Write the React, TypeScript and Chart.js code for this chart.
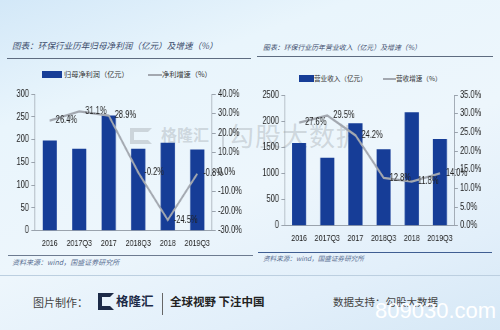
import React, { useEffect, useRef } from "react";
import { Chart, registerables } from "chart.js";
Chart.register(...registerables);

const categories = ["2016", "2017Q3", "2017", "2018Q3", "2018", "2019Q3"];
const profitValues = [198, 180, 253, 180, 193, 178];
const profitGrowth = [26.4, 31.1, 28.9, -0.2, -24.5, -0.8];
const revenueValues = [1580, 1300, 1960, 1460, 2170, 1660];
const revenueGrowth = [27.6, 29.5, 24.2, 12.8, 11.8, 14.0];

const BAR = "#163d97";
const LINE = "#a3a8b0";
const AXIS = "#9aa3ad";
const TICK_FONT = '"Liberation Sans", Arial, sans-serif';
// the reference picture is squeezed horizontally; the canvas is drawn wider and shown narrower
const SQUEEZE = 0.75;

const pctLabels = {
  id: "pctLabels",
  afterDatasetsDraw(chart: any, _args: any, opts: any) {
    const meta = chart.getDatasetMeta(0);
    const ds = chart.data.datasets[0].data as number[];
    const ctx = chart.ctx;
    ctx.save();
    ctx.font = `10px ${TICK_FONT}`;
    ctx.fillStyle = "#222";
    ctx.textBaseline = "middle";
    ctx.textAlign = "left";
    meta.data.forEach((pt: any, i: number) => {
      ctx.fillText(ds[i].toFixed(1) + "%", pt.x + (opts.offset ?? 8), pt.y);
    });
    ctx.restore();
  },
};

type Props = {
  left: number;
  top: number;
  cssWidth: number;
  height: number;
  bars: number[];
  growth: number[];
  yMax: number;
  yStep: number;
  y1Min: number;
  y1Max: number;
  y1Step: number;
  axisLeftPage: number; // page px from canvas left
  axisRightPage: number;
  padTop: number;
  xH: number;
  barPct: number;
  labelOffset: number;
};

function ComboChart(p: Props) {
  const ref = useRef<HTMLCanvasElement>(null);
  const iw = Math.round(p.cssWidth / SQUEEZE);
  useEffect(() => {
    if (!ref.current) return;
    const yFont = { family: TICK_FONT, size: 10 };
    const xFont = { family: TICK_FONT, size: 9.5 };
    const leftW = p.axisLeftPage / SQUEEZE;
    const rightW = iw - p.axisRightPage / SQUEEZE;
    const chart = new Chart(ref.current, {
      type: "bar",
      data: {
        labels: categories,
        datasets: [
          {
            type: "line",
            data: p.growth,
            yAxisID: "y1",
            borderColor: LINE,
            backgroundColor: LINE,
            borderWidth: 2.4,
            pointRadius: 0,
            tension: 0,
          } as any,
          {
            type: "bar",
            data: p.bars,
            yAxisID: "y",
            backgroundColor: BAR,
            barPercentage: p.barPct,
            categoryPercentage: 1,
          },
        ],
      },
      options: {
        responsive: false,
        animation: false,
        devicePixelRatio: 1,
        layout: { padding: { top: p.padTop, left: 0, right: 0, bottom: 0 } },
        plugins: {
          legend: { display: false },
          tooltip: { enabled: false },
          pctLabels: { offset: p.labelOffset / SQUEEZE },
        } as any,
        scales: {
          x: {
            grid: { display: false, drawTicks: false, tickLength: 0 },
            border: { color: AXIS },
            ticks: { font: xFont, color: "#222", padding: 7, maxRotation: 0, autoSkip: false },
            afterFit: (s: any) => {
              s.height = p.xH;
            },
          },
          y: {
            position: "left",
            min: 0,
            max: p.yMax,
            ticks: {
              stepSize: p.yStep,
              font: yFont,
              color: "#222",
              padding: 3,
              callback: (v: any) => String(v),
            },
            grid: { drawOnChartArea: false, tickLength: 5, color: AXIS },
            border: { color: AXIS },
            afterFit: (s: any) => {
              s.width = leftW;
            },
          },
          y1: {
            position: "right",
            min: p.y1Min,
            max: p.y1Max,
            ticks: {
              stepSize: p.y1Step,
              font: yFont,
              color: "#222",
              padding: 3,
              callback: (v: any) => Number(v).toFixed(1) + "%",
            },
            grid: { drawOnChartArea: false, tickLength: 5, color: AXIS },
            border: { color: AXIS },
            afterFit: (s: any) => {
              s.width = rightW;
            },
          },
        },
      },
      plugins: [pctLabels],
    });
    return () => chart.destroy();
  }, []);
  return (
    <canvas
      ref={ref}
      width={iw}
      height={p.height}
      style={{ position: "absolute", left: p.left, top: p.top, width: iw * SQUEEZE, height: p.height }}
    />
  );
}

const abs = (s: React.CSSProperties): React.CSSProperties => ({ position: "absolute", whiteSpace: "nowrap", ...s });
const CJK = '"Noto Sans CJK SC", "Noto Sans", sans-serif';
const WM = "rgba(160,166,172,0.4)";

export default function App() {
  return (
    <div
      style={{
        position: "absolute",
        left: 0,
        top: 0,
        width: 500,
        height: 330,
        overflow: "hidden",
        fontFamily: CJK,
        background:
          "linear-gradient(160deg, #d3e8f8 0%, #e9f5fc 25%, #edf6fc 55%, #e2effa 80%, #d6e8f6 100%)",
      }}
    >
      {/* titles */}
      <div style={abs({ left: 12, top: 39, fontSize: 8.6, fontStyle: "italic", color: "#3b4b6b" })}>
        图表：环保行业历年归母净利润（亿元）及增速（%）
      </div>
      <div style={abs({ left: 263, top: 42, fontSize: 6.9, fontStyle: "italic", color: "#3b4b6b" })}>
        图表：环保行业历年营业收入（亿元）及增速（%）
      </div>
      <div style={abs({ left: 7, top: 58, width: 244, height: 1, background: "#5e6c80" })} />
      <div style={abs({ left: 257, top: 56, width: 236, height: 1, background: "#5e6c80" })} />

      {/* legends */}
      <div style={abs({ left: 42, top: 71, width: 20, height: 7, background: BAR })} />
      <div style={abs({ left: 64, top: 69, fontSize: 7.2, color: "#333" })}>归母净利润（亿元）</div>
      <div style={abs({ left: 148, top: 74, width: 14, height: 1.5, background: LINE })} />
      <div style={abs({ left: 162, top: 69, fontSize: 7.2, color: "#333" })}>净利增速（%）</div>

      <div style={abs({ left: 299, top: 75, width: 15, height: 7, background: BAR })} />
      <div style={abs({ left: 314, top: 73, fontSize: 6.6, color: "#333" })}>营业收入（亿元）</div>
      <div style={abs({ left: 383, top: 78, width: 13, height: 1.5, background: LINE })} />
      <div style={abs({ left: 396, top: 73, fontSize: 6.6, color: "#333" })}>营收增速（%）</div>

      {/* watermark (behind charts) */}
      <div style={abs({ left: 130, top: 128, width: 22, height: 16, border: "4px solid " + WM, borderRightColor: "transparent", boxSizing: "border-box" })} />
      <div style={abs({ left: 161, top: 122, fontSize: 16, fontWeight: 700, color: WM })}>格隆汇</div>
      <div style={abs({ left: 222, top: 128, width: 1.5, height: 22, background: WM })} />
      <div style={abs({ left: 228, top: 116, fontSize: 26, color: WM, letterSpacing: 1 })}>勾股大数据</div>

      <ComboChart
        left={0}
        top={85}
        cssWidth={252}
        height={165}
        bars={profitValues}
        growth={profitGrowth}
        yMax={300}
        yStep={50}
        y1Min={-30}
        y1Max={40}
        y1Step={10}
        axisLeftPage={35}
        axisRightPage={212}
        padTop={7.7}
        xH={19.3}
        barPct={0.48}
        labelOffset={6}
      />
      <ComboChart
        left={250}
        top={85}
        cssWidth={252}
        height={165}
        bars={revenueValues}
        growth={revenueGrowth}
        yMax={2500}
        yStep={500}
        y1Min={0}
        y1Max={35}
        y1Step={5}
        axisLeftPage={35}
        axisRightPage={204}
        padTop={10}
        xH={24.3}
        barPct={0.5}
        labelOffset={6}
      />

      {/* bottom lines & sources */}
      <div style={abs({ left: 8, top: 255, width: 245, height: 1, background: "#6d7b90" })} />
      <div style={abs({ left: 258, top: 252, width: 234, height: 1, background: "#3f5e92" })} />
      <div style={abs({ left: 12, top: 257, fontSize: 7, fontStyle: "italic", color: "#5a6f92" })}>
        资料来源：wind，国盛证券研究所
      </div>
      <div style={abs({ left: 263, top: 253, fontSize: 6.6, fontStyle: "italic", color: "#5a6f92" })}>
        资料来源：wind，国盛证券研究所
      </div>
      <div style={abs({ left: 0, top: 275, width: 500, height: 1, background: "#bccfe0" })} />

      {/* footer */}
      <div style={abs({ left: 33, top: 294, fontSize: 11, color: "#444" })}>图片制作：</div>
      <div style={abs({ left: 98, top: 293, width: 16, height: 17, border: "4px solid #1d2b48", borderRightColor: "transparent", boxSizing: "border-box" })} />
      <div style={abs({ left: 116, top: 291, fontSize: 12.5, fontWeight: 700, color: "#1d2b48" })}>格隆汇</div>
      <div style={abs({ left: 162, top: 293, width: 1, height: 22, background: "#666" })} />
      <div style={abs({ left: 170, top: 293, fontSize: 11.5, fontWeight: 700, color: "#222" })}>全球视野 下注中国</div>
      <div style={abs({ left: 333, top: 294, fontSize: 10.5, color: "#444" })}>数据支持：勾股大数据</div>
      <div style={abs({ left: 375, top: 298, fontSize: 22, fontFamily: '"Liberation Sans", sans-serif', color: "#ffffff" })}>
        809030.com
      </div>
    </div>
  );
}
